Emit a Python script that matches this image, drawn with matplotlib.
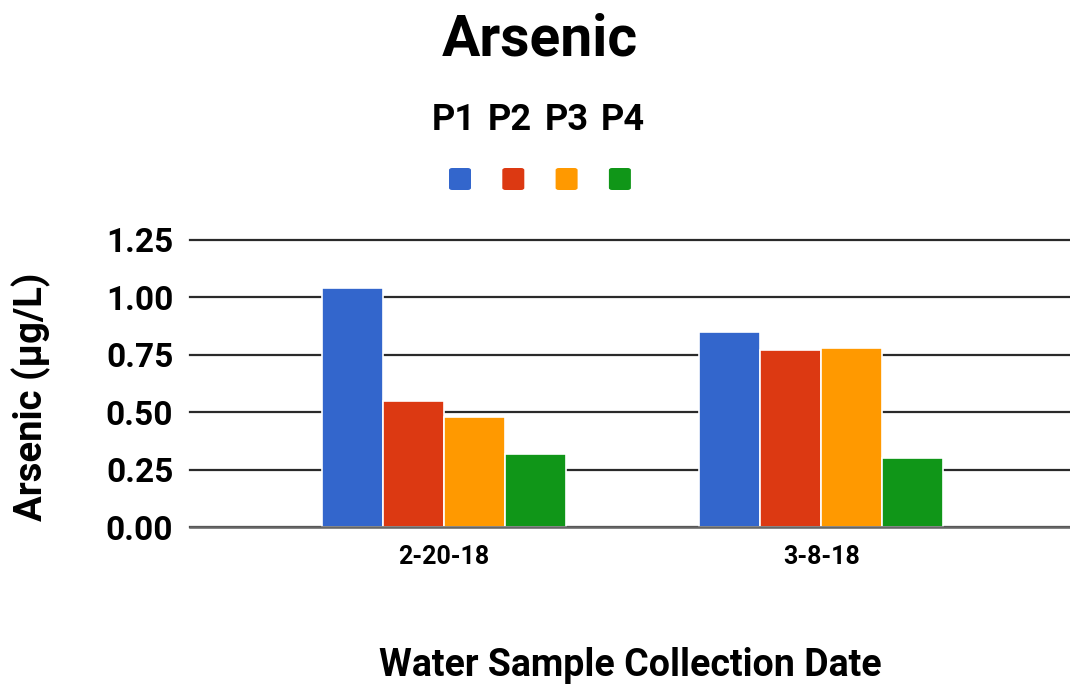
import matplotlib
matplotlib.use("Agg")
import matplotlib.pyplot as plt
from matplotlib.patches import FancyBboxPatch
import numpy as np

categories = ["2-20-18", "3-8-18"]
series_names = ["P1", "P2", "P3", "P4"]
p1 = [1.04, 0.85]
p2 = [0.55, 0.77]
p3 = [0.48, 0.78]
p4 = [0.32, 0.30]
yticks = [0.00, 0.25, 0.50, 0.75, 1.00, 1.25]
colors = ["#3366CC", "#DC3912", "#FF9900", "#109618"]

plt.rcParams['font.family'] = ['Roboto', 'DejaVu Sans']
plt.rcParams['font.weight'] = 'bold'

W, H = 1070, 690
fig = plt.figure(figsize=(W / 100, H / 100), dpi=100)
ax = fig.add_axes([190 / W, (H - 527) / H, (1070 - 190) / W, (527 - 240) / H])

x = np.arange(len(categories))
bw = 0.162
values = [p1, p2, p3, p4]
for i, (vals, c) in enumerate(zip(values, colors)):
    off = (i - 1.5) * bw
    ax.bar(x + off, vals, width=bw, color=c, edgecolor="white", linewidth=1.2, zorder=3)

ax.set_xlim(-0.674, 1.660)
ax.set_ylim(0, 1.25)
ax.set_yticks(yticks)
ax.set_yticklabels([f"{v:.2f}" for v in yticks], fontsize=24, fontweight='bold')
ax.set_xticks(x)
ax.set_xticklabels(categories, fontsize=18, fontweight='bold')
ax.tick_params(axis='y', length=0, pad=12)
ax.tick_params(axis='x', length=0, pad=13)
ax.yaxis.grid(True, color="#2a2a2a", linewidth=1.6, zorder=0)
for gl in ax.get_ygridlines():
    gl.set_clip_on(False)
ax.set_axisbelow(True)
for s in ax.spines.values():
    s.set_visible(False)
ax.axhline(0, color="#666666", linewidth=1.8, zorder=4, clip_on=False)

# title
fig.text(540 / W, 1 - 55 / H, "Arsenic", ha="center", va="baseline", fontsize=41, fontweight='bold')

# legend
label_x0, sq_x0, step = 454, 460, 56.3
for i, (name, c) in enumerate(zip(series_names, colors)):
    fig.text((label_x0 + i * step) / W, 1 - 130.5 / H, name, ha="center", va="baseline",
             fontsize=26, fontweight='bold')
    cx = sq_x0 + i * 53.3
    sz = 22
    patch = FancyBboxPatch(((cx - sz / 2) / W, 1 - (179 + sz / 2) / H), sz / W, sz / H,
                           boxstyle="round,pad=0,rounding_size=0.003",
                           transform=fig.transFigure, facecolor=c, edgecolor="none")
    fig.patches.append(patch)

# axis labels
fig.text(630 / W, 1 - 676 / H, "Water Sample Collection Date", ha="center", va="baseline",
         fontsize=27, fontweight='bold')
fig.text(31 / W, 1 - 397 / H, "Arsenic (µg/L)", ha="center", va="center", rotation=90,
         fontsize=27.5, fontweight='bold')

fig.savefig("out.png", dpi=100)
